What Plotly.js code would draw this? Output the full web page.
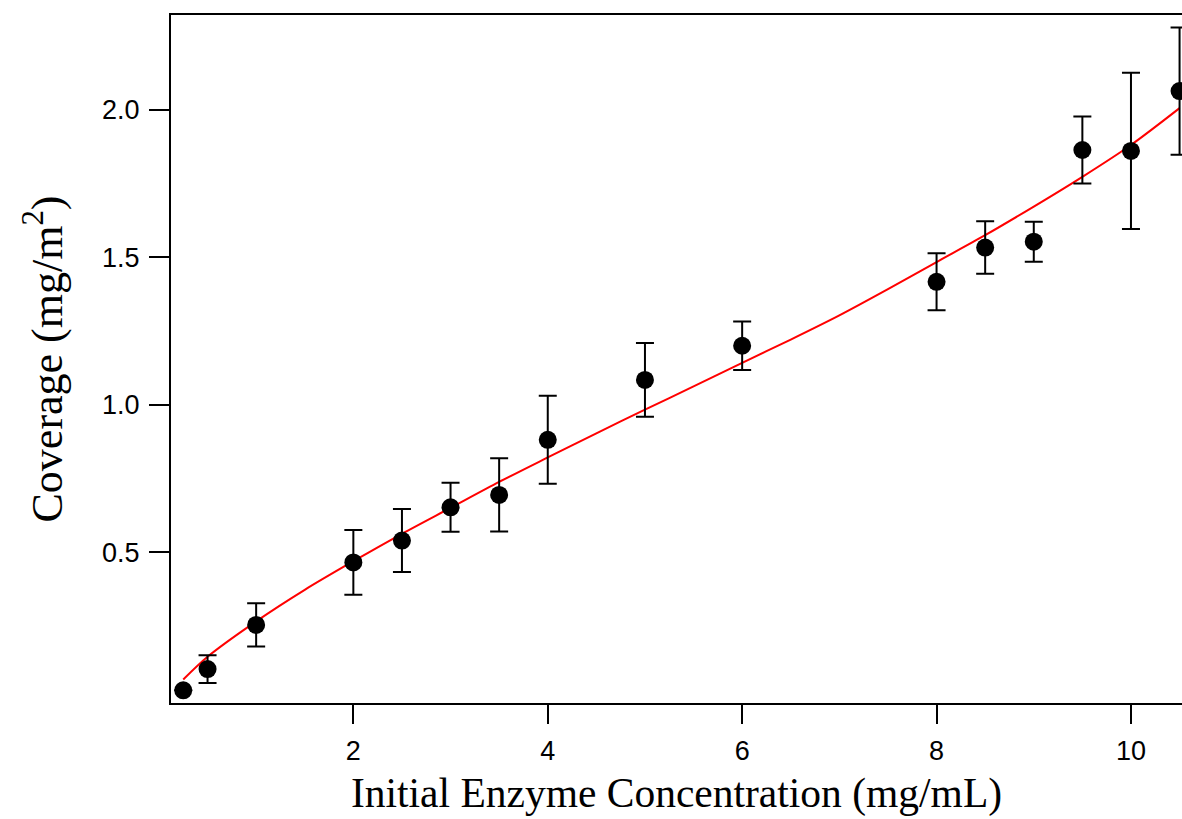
<!DOCTYPE html>
<html>
<head>
<meta charset="utf-8">
<script src="https://cdn.plot.ly/plotly-3.0.1.min.js"></script>
<style>html,body{margin:0;padding:0;background:#fff;}#chart{width:1182px;height:819px;}</style>
</head>
<body>
<div id="chart"></div>
<script>
// Measured data
const concentration = [0.25, 0.5, 1, 2, 2.5, 3, 3.5, 4, 5, 6, 8, 8.5, 9, 9.5, 10, 10.5];
const coverage      = [0.031, 0.103, 0.253, 0.465, 0.539, 0.652, 0.694, 0.881, 1.084, 1.200, 1.417, 1.533, 1.553, 1.864, 1.861, 2.064];
const coverageErr   = [0, 0.047, 0.073, 0.11, 0.107, 0.083, 0.124, 0.149, 0.125, 0.082, 0.097, 0.089, 0.068, 0.114, 0.265, 0.216];

// Fitted curve
const fitX = [0.25, 0.5, 1, 1.5, 2, 2.5, 3, 3.5, 4, 4.5, 5, 5.5, 6, 6.5, 7, 7.5, 8, 8.5, 9, 9.5, 10, 10.5];
const fitY = [0.068, 0.145, 0.265, 0.372, 0.469, 0.562, 0.650, 0.738, 0.821, 0.903, 0.983, 1.062, 1.142, 1.221, 1.303, 1.392, 1.484, 1.575, 1.672, 1.773, 1.881, 2.006];

const xTicks = [2, 4, 6, 8, 10];
const yTicks = [0.5, 1.0, 1.5, 2.0];
const yTickText = ['0.5', '1.0', '1.5', '2.0'];

const traces = [
  {
    x: fitX, y: fitY, type: 'scatter', mode: 'lines',
    line: {color: '#ff0000', width: 2, shape: 'spline', smoothing: 0.8},
    hoverinfo: 'skip'
  },
  {
    x: concentration, y: coverage, type: 'scatter', mode: 'markers',
    marker: {color: '#000', size: 18, symbol: 'circle'},
    error_y: {type: 'data', array: coverageErr, visible: true, color: '#000', thickness: 2, width: 9}
  }
];

const tickFont = {family: 'Liberation Sans, Arial, sans-serif', size: 27, color: '#000'};
const xTitleFont = {family: 'Liberation Serif, Times New Roman, serif', size: 41.5, color: '#000'};
const yTitleFont = {family: 'Liberation Serif, Times New Roman, serif', size: 44, color: '#000'};

const layout = {
  width: 1182, height: 819,
  margin: {l: 171, r: 0, t: 15, b: 116},
  paper_bgcolor: '#fff', plot_bgcolor: '#fff',
  showlegend: false,
  xaxis: {
    range: [0.124, 10.525],
    tickvals: xTicks, ticktext: xTicks.map(String),
    ticks: 'outside', ticklen: 19, tickwidth: 2, tickcolor: '#000',
    showline: true, linewidth: 2, linecolor: '#000', mirror: true,
    showgrid: false, zeroline: false,
    tickfont: tickFont,
    ticklabelstandoff: 4,
    title: {text: 'Initial Enzyme Concentration (mg/mL)', font: xTitleFont, standoff: 13}
  },
  yaxis: {
    range: [-0.012, 2.322],
    tickvals: yTicks, ticktext: yTickText,
    ticks: 'outside', ticklen: 20, tickwidth: 2, tickcolor: '#000',
    showline: true, linewidth: 2, linecolor: '#000', mirror: false,
    showgrid: false, zeroline: false,
    tickfont: tickFont,
    ticklabelstandoff: 4,
    title: {text: 'Coverage (mg/m<sup>2</sup>)', font: yTitleFont, standoff: 26}
  }
};

Plotly.newPlot('chart', traces, layout, {displayModeBar: false, staticPlot: true});
</script>
</body>
</html>
